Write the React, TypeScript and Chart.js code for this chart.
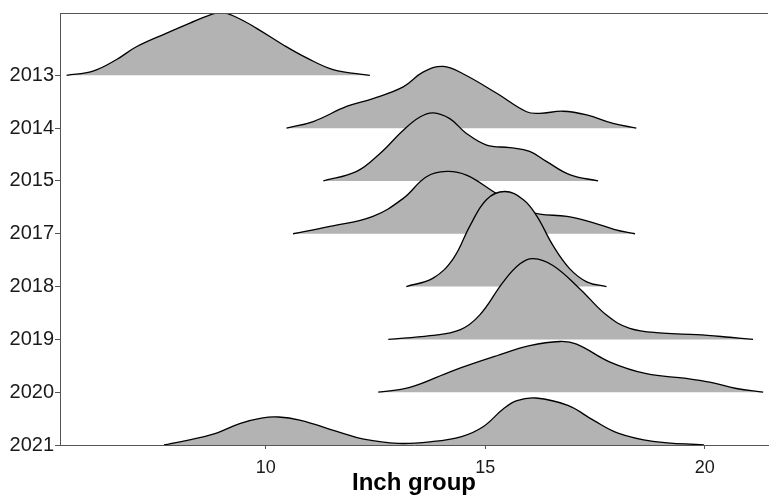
import { useEffect, useRef } from "react";
import { Chart, registerables } from "chart.js";

Chart.register(...registerables);

const years = ["2013", "2014", "2015", "2017", "2018", "2019", "2020", "2021"];
const xTicks = [10, 15, 20];
const xTitle = "Inch group";

// Ridge outlines: inch group (x) and ridge height (in row units)
const x2013 = [5.46, 6.06, 6.6, 7.05, 7.74, 8.27, 8.72, 8.99, 9.33, 9.79, 10.39, 10.93, 11.53, 12.37];
const h2013 = [0, 0.08, 0.3, 0.54, 0.8, 0.99, 1.14, 1.19, 1.1, 0.89, 0.58, 0.33, 0.11, 0];

const x2014 = [10.47, 11.08, 11.84, 12.44, 13.13, 13.58, 14.04, 14.49, 15.26, 15.94, 16.24, 16.77, 17.31, 17.91, 18.44];
const h2014 = [0, 0.125, 0.41, 0.56, 0.78, 1.06, 1.17, 1.03, 0.66, 0.31, 0.28, 0.32, 0.25, 0.09, 0];

const x2015 = [11.31, 12.07, 12.6, 13.13, 13.51, 13.81, 14.19, 14.57, 15.03, 15.56, 16.01, 16.39, 16.92, 17.57];
const h2015 = [0, 0.18, 0.52, 0.96, 1.21, 1.29, 1.18, 0.9, 0.68, 0.63, 0.56, 0.37, 0.12, 0];

const x2017 = [10.62, 11.46, 12.44, 13.13, 13.66, 14.12, 14.57, 15.18, 15.56, 15.9, 16.24, 16.86, 17.45, 17.95, 18.41];
const h2017 = [0, 0.14, 0.33, 0.67, 1.08, 1.18, 1.11, 0.8, 0.6, 0.45, 0.37, 0.33, 0.21, 0.08, 0];

const x2018 = [13.2, 13.81, 14.27, 14.65, 15.03, 15.44, 15.86, 16.17, 16.54, 16.92, 17.31, 17.76];
const h2018 = [0, 0.16, 0.53, 1.15, 1.65, 1.8, 1.65, 1.34, 0.78, 0.34, 0.09, 0];

const x2019 = [12.79, 13.74, 14.42, 14.87, 15.41, 15.79, 16.09, 16.54, 17.15, 17.76, 18.29, 19.05, 19.81, 20.57, 21.1];
const h2019 = [0, 0.07, 0.18, 0.46, 1.09, 1.43, 1.53, 1.4, 0.96, 0.46, 0.21, 0.12, 0.09, 0.04, 0];

const x2020 = [12.56, 13.28, 14.27, 15.26, 16.01, 16.7, 17.08, 17.84, 18.67, 19.58, 20.11, 20.72, 21.33];
const h2020 = [0, 0.09, 0.41, 0.69, 0.88, 0.96, 0.91, 0.57, 0.35, 0.26, 0.19, 0.07, 0];

const x2021 = [7.68, 8.74, 9.42, 9.9, 10.29, 10.77, 11.65, 12.23, 13.01, 13.74, 14.46, 14.94, 15.42, 15.72, 16.15, 16.88, 17.46, 18.04, 18.82, 19.98];
const h2021 = [0, 0.19, 0.41, 0.51, 0.53, 0.47, 0.25, 0.11, 0.03, 0.06, 0.16, 0.34, 0.69, 0.84, 0.89, 0.75, 0.47, 0.22, 0.07, 0];

const ridgeX = [x2013, x2014, x2015, x2017, x2018, x2019, x2020, x2021];
const ridgeH = [h2013, h2014, h2015, h2017, h2018, h2019, h2020, h2021];

const FONT = "'Liberation Sans', Arial, Helvetica, sans-serif";
const AXIS = "#555555";

const topBorder = {
  id: "topBorder",
  afterDraw(chart: any) {
    const { ctx, chartArea } = chart;
    ctx.save();
    ctx.strokeStyle = AXIS;
    ctx.lineWidth = 1;
    ctx.beginPath();
    ctx.moveTo(chartArea.left, chartArea.top + 0.5);
    ctx.lineTo(chartArea.right, chartArea.top + 0.5);
    ctx.stroke();
    ctx.restore();
  },
};

export default function App() {
  const ref = useRef<HTMLCanvasElement | null>(null);

  useEffect(() => {
    if (!ref.current) return;
    const n = years.length;
    const datasets: any[] = [];
    // bottom row first so that lower ridges are painted over upper ones
    for (let i = n - 1; i >= 0; i--) {
      const base = n - i;
      datasets.push({
        label: years[i],
        data: ridgeX[i].map((x, k) => ({ x, y: base + ridgeH[i][k] })),
        borderColor: "#000000",
        borderWidth: 1.3,
        backgroundColor: "#B3B3B3",
        fill: { value: base },
        pointRadius: 0,
        pointHoverRadius: 0,
        tension: 0.4,
      });
    }

    const chart = new Chart(ref.current, {
      type: "line",
      data: { datasets },
      plugins: [topBorder],
      options: {
        animation: false,
        responsive: false,
        maintainAspectRatio: false,
        layout: { padding: { top: 8, right: 1, left: 0, bottom: 0 } },
        plugins: {
          legend: { display: false },
          tooltip: { enabled: false },
          filler: { drawTime: "beforeDatasetDraw" },
        },
        scales: {
          x: {
            type: "linear",
            min: 5.31,
            max: 21.44,
            afterBuildTicks: (s: any) => {
              s.ticks = xTicks.map((v) => ({ value: v }));
            },
            afterFit: (s: any) => {
              s.height = 53;
            },
            grid: {
              display: true,
              drawOnChartArea: false,
              drawTicks: true,
              tickLength: 4,
              color: AXIS,
            },
            border: { display: true, color: AXIS, width: 1 },
            ticks: {
              color: "#1a1a1a",
              font: { family: FONT, size: 18 },
              padding: 8,
              maxRotation: 0,
            },
            title: {
              display: true,
              text: xTitle,
              color: "#000000",
              font: { family: FONT, size: 24, weight: "bold" },
              padding: { top: 0, bottom: 0 },
            },
          },
          y: {
            type: "linear",
            min: 1,
            max: 9.18,
            afterBuildTicks: (s: any) => {
              s.ticks = years.map((_, i) => ({ value: n - i }));
            },
            afterFit: (s: any) => {
              s.width = 60;
            },
            grid: {
              display: true,
              drawOnChartArea: false,
              drawTicks: true,
              tickLength: 5,
              color: AXIS,
            },
            border: { display: true, color: AXIS, width: 1 },
            ticks: {
              color: "#1a1a1a",
              font: { family: FONT, size: 20 },
              padding: 1,
              callback: (v: any) => years[n - Number(v)] ?? "",
            },
          },
        },
      } as any,
    });
    return () => chart.destroy();
  }, []);

  return (
    <div style={{ position: "fixed", left: 0, top: 0, width: 769, height: 498, background: "#fff" }}>
      <canvas ref={ref} width={769} height={498} style={{ width: 769, height: 498 }} />
    </div>
  );
}
